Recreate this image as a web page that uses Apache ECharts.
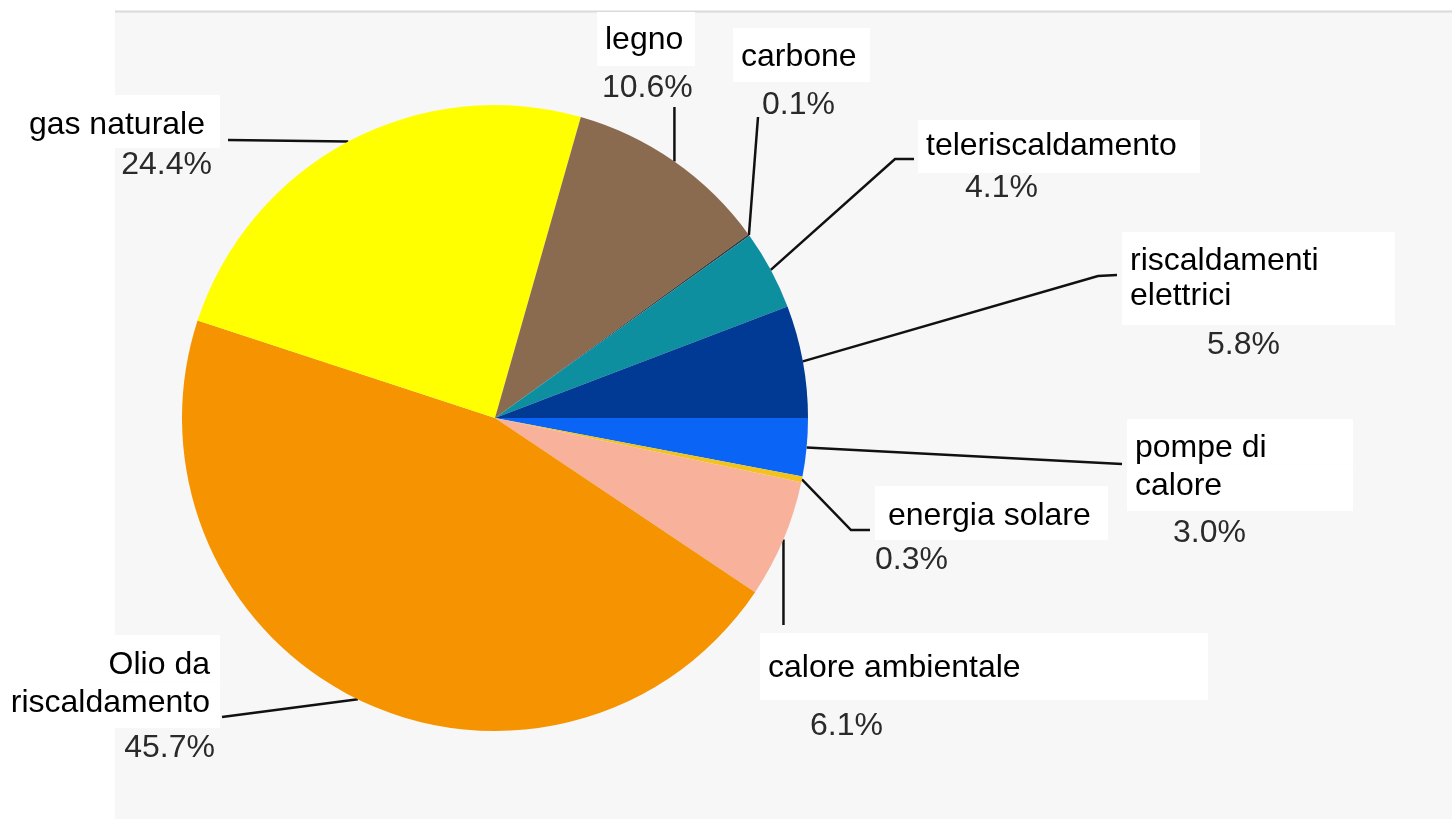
<!DOCTYPE html>
<html>
<head>
<meta charset="utf-8">
<script src="https://cdn.jsdelivr.net/npm/echarts@6/dist/echarts.min.js"></script>
<style>
html,body{margin:0;padding:0;background:#fff;}
#chart{width:1452px;height:819px;}
</style>
</head>
<body>
<div id="chart"></div>
<script>
// ---- data ----
const categories = ['pompe di\ncalore', 'energia solare', 'calore ambientale', 'Olio da\nriscaldamento', 'gas naturale', 'legno', 'carbone', 'teleriscaldamento', 'riscaldamenti\nelettrici'];
const shares = [3.0, 0.3, 6.1, 45.7, 24.4, 10.6, 0.1, 4.1, 5.8];
const sliceColors = ['#0a64f5', '#f2c31c', '#f8b29c', '#f59300', '#ffff00', '#8b6b50', '#3a3a3a', '#0d8fa0', '#013a94'];

// ---- label layout (positions / styles only) ----
// x,y: anchor of label block; w: name box content width; pads: padding per name line; pct: padding of percent line
const labelBoxes = [
  {x: 1127, y: 419, align: 'left',  w: 218, pads: [[11.5, 0, 0, 8], [3, 0, 7.5, 8]], pct: [7, 0, 0, 46], line: [[1122, 464]]},
  {x: 875,  y: 486, align: 'left',  w: 220, pads: [[12.5, 0, 6.5, 13]], pct: [5, 0, 0, 0], line: [[851, 530], [870, 530]]},
  {x: 760,  y: 633, align: 'left',  w: 440, pads: [[17.5, 0, 14.5, 8]], pct: [11, 0, 0, 50], line: [['v', 625]]},
  {x: 220,  y: 635, align: 'right', w: 210, pads: [[12.5, 10, 0, 0], [3, 10, 7.5, 0]], pct: [5, 5, 0, 0], line: [[222, 717]]},
  {x: 220,  y: 95,  align: 'right', w: 190, pads: [[12.5, 15, 5.5, 0]], pct: [2, 8, 0, 0], line: [[228, 140]]},
  {x: 597,  y: 12,  align: 'left',  w: 90,  pads: [[10.5, 0, 8.5, 8]], pct: [7, 0, 0, 5], line: [['v', 107]]},
  {x: 733,  y: 28,  align: 'left',  w: 129, pads: [[11.5, 0, 7.5, 8]], pct: [8, 0, 0, 29], line: [[758, 117]]},
  {x: 918,  y: 120, align: 'left',  w: 274, pads: [[8.5, 0, 9.5, 8]], pct: [0, 0, 0, 47], line: [[895, 159], [914, 159]]},
  {x: 1122, y: 232, align: 'left',  w: 265, pads: [[12, 0, 0, 8], [0, 0, 11, 8]], pct: [5, 0, 0, 85], line: [[1098, 276], [1117, 275]]}
];

const FONT = '"Liberation Sans", Arial, Helvetica, sans-serif';
const rich = {};
labelBoxes.forEach((b, i) => {
  b.pads.forEach((p, k) => {
    rich['n' + i + '_' + k] = {
      fontSize: 32, fontFamily: FONT, color: '#000', backgroundColor: '#ffffff',
      width: b.w, height: 35, padding: p, align: b.align
    };
  });
  rich['p' + i] = {
    fontSize: 32, fontFamily: FONT, color: '#2a2a2a', height: 30, padding: b.pct, align: b.align
  };
});

const chart = echarts.init(document.getElementById('chart'), null, {renderer: 'canvas'});
chart.setOption({
  animation: false,
  graphic: [
    {type: 'rect', z: -10, silent: true, shape: {x: 115, y: 12, width: 1337, height: 807}, style: {fill: '#f7f7f7'}},
    {type: 'line', z: -9, silent: true, shape: {x1: 115, y1: 11.5, x2: 1452, y2: 11.5}, style: {stroke: '#dadada', lineWidth: 2}}
  ],
  series: [{
    type: 'pie',
    center: [495, 418],
    radius: 313,
    startAngle: 0,
    clockwise: true,
    avoidLabelOverlap: false,
    silent: true,
    color: sliceColors,
    itemStyle: {borderWidth: 0},
    emphasis: {disabled: true},
    data: categories.map((n, i) => ({name: n, value: shares[i]})),
    label: {
      show: true,
      position: 'outside',
      formatter: p => {
        const i = p.dataIndex;
        const parts = p.name.split('\n');
        return parts.map((t, k) => '{n' + i + '_' + k + '|' + t + '}').join('\n') +
          '\n{p' + i + '|' + shares[i].toFixed(1) + '%}';
      },
      rich: rich
    },
    labelLine: {show: true, smooth: false, length: 10, length2: 10, lineStyle: {color: '#111111', width: 2.5}},
    labelLayout: params => {
      const b = labelBoxes[params.dataIndex];
      const start = params.labelLinePoints ? params.labelLinePoints[0] : null;
      const pts = [];
      if (start) pts.push([start[0], start[1]]);
      b.line.forEach(pt => {
        if (pt[0] === 'v') pts.push([start ? start[0] : 0, pt[1]]);
        else pts.push(pt);
      });
      return {x: b.x, y: b.y, align: b.align, verticalAlign: 'top', labelLinePoints: pts};
    }
  }]
});
</script>
</body>
</html>
